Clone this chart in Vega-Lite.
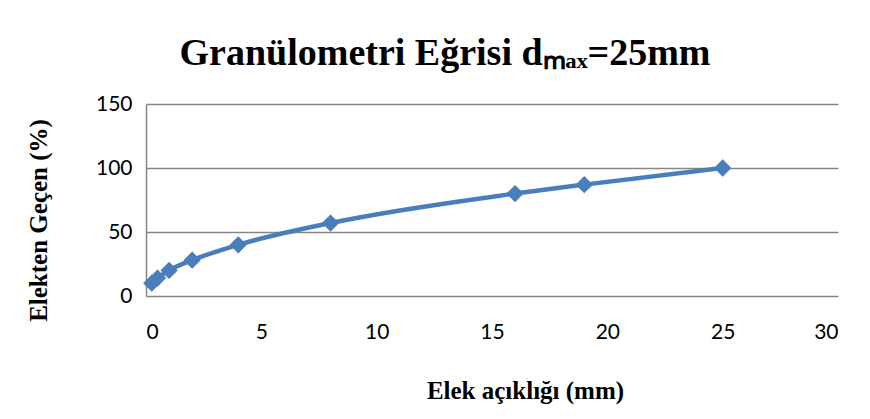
{
  "$schema": "https://vega.github.io/schema/vega-lite/v6.json",
  "autosize": "none",
  "width": 692,
  "height": 192,
  "padding": {"left": 146, "top": 104, "right": 32, "bottom": 123},
  "background": "white",
  "title": {
    "text": "Granülometri Eğrisi dₘₐₓ=25mm",
    "font": "Liberation Serif",
    "fontWeight": "bold",
    "fontSize": 38,
    "color": "#000000",
    "anchor": "middle",
    "frame": "group",
    "dx": -47,
    "baseline": "alphabetic",
    "offset": -10
  },
  "data": {
    "values": [
      {"d": 0.25, "p": 10},
      {"d": 0.5, "p": 14},
      {"d": 1, "p": 20},
      {"d": 2, "p": 28},
      {"d": 4, "p": 40},
      {"d": 8, "p": 57},
      {"d": 16, "p": 80},
      {"d": 19, "p": 87},
      {"d": 25, "p": 100}
    ]
  },
  "encoding": {
    "x": {
      "field": "d",
      "type": "quantitative",
      "scale": {"domain": [0, 30], "nice": false},
      "axis": {
        "values": [0, 5, 10, 15, 20, 25, 30],
        "title": "Elek açıklığı (mm)",
        "titleFont": "Liberation Serif",
        "titleFontWeight": "bold",
        "titleFontSize": 25,
        "titleColor": "#000000",
        "titleX": 379,
        "titleY": 102,
        "titleBaseline": "alphabetic",
        "titleAnchor": null,
        "labelFont": "Lato",
        "labelFontSize": 21,
        "labelColor": "#000000",
        "labelPadding": 25,
        "ticks": false,
        "domain": false,
        "grid": false
      }
    },
    "y": {
      "field": "p",
      "type": "quantitative",
      "scale": {"domain": [0, 150], "nice": false},
      "axis": {
        "values": [0, 50, 100, 150],
        "title": "Elekten  Geçen (%)",
        "titleFont": "Liberation Serif",
        "titleFontWeight": "bold",
        "titleFontSize": 25,
        "titleColor": "#000000",
        "titleX": -100,
        "titleY": 116,
        "titleAngle": -90,
        "titleBaseline": "alphabetic",
        "titleAnchor": null,
        "labelFont": "Lato",
        "labelFontSize": 21,
        "labelColor": "#000000",
        "labelPadding": 14,
        "ticks": false,
        "domain": true,
        "domainColor": "#868686",
        "domainWidth": 1.5,
        "grid": true,
        "gridColor": "#868686",
        "gridWidth": 1.5,
        "gridOpacity": 1
      }
    }
  },
  "layer": [
    {
      "mark": {"type": "line", "interpolate": "monotone", "color": "#4A7EBB", "strokeWidth": 4.5}
    },
    {
      "mark": {"type": "point", "shape": "diamond", "filled": true, "size": 300, "color": "#4A7EBB", "opacity": 1}
    }
  ],
  "config": {
    "view": {"stroke": null}
  }
}
